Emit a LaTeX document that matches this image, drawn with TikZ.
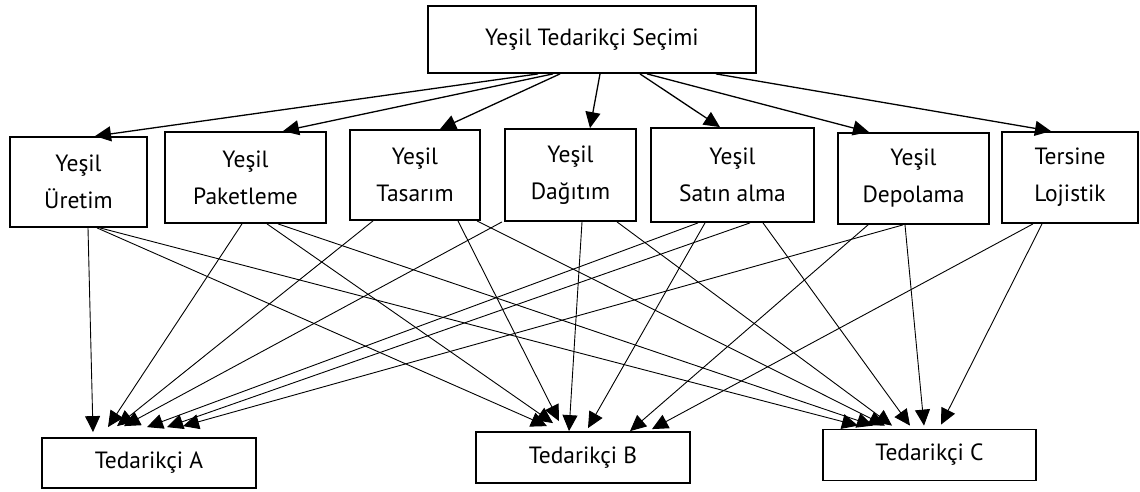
\documentclass[tikz,border=0pt]{standalone}
\usepackage{fontspec}
\setmainfont{PT Sans}
\usetikzlibrary{arrows.meta}
\tikzstyle{box} = [rectangle, draw=black, line width=1.8pt, text centered, align=center, inner sep=0pt, font=\fontsize{23.5}{37}\selectfont]
\tikzstyle{arrow} = [line width=1.3pt, -{Triangle[length=16pt,width=15pt]}]
\tikzstyle{thinarrow} = [line width=0.9pt, -{Triangle[length=16pt,width=15pt]}]

\begin{document}
\begin{tikzpicture}[x=1pt,y=-1pt]
        \useasboundingbox (0,0) rectangle (1140,491);
        \node (top) [box, minimum width=328pt, minimum height=67pt] at (592,39.5) {Yeşil Tedarikçi Seçimi};
        % criteria
        \node (u) [box, minimum width=137pt, minimum height=90pt] at (78.5,182) {Yeşil\\Üretim};
        \node (p) [box, minimum width=161pt, minimum height=91pt] at (245.5,177.5) {Yeşil\\Paketleme};
        \node (t) [box, minimum width=130pt, minimum height=90pt] at (415,175) {Yeşil\\Tasarım};
        \node (d) [box, minimum width=131pt, minimum height=92pt] at (570.5,175) {Yeşil\\Dağıtım};
        \node (s) [box, minimum width=163pt, minimum height=94pt] at (732.5,175) {Yeşil\\Satın alma};
        \node (dp) [box, minimum width=151pt, minimum height=91pt] at (913.5,178.5) {Yeşil\\Depolama};
        \node (tl) [box, minimum width=136pt, minimum height=91pt] at (1070,177.5) {Tersine\\Lojistik};
        % suppliers
        \node (A) [box, minimum width=214pt, minimum height=50pt] at (149,463) {Tedarikçi A};
        \node (B) [box, minimum width=214pt, minimum height=51pt] at (583,457.5) {Tedarikçi B};
        \node (C) [box, minimum width=213pt, minimum height=51pt] at (929.5,455) {Tedarikçi C};

        \draw [arrow] ([xshift=-54pt]top.south) -- ([xshift=16.5pt]u.north);
        \draw [arrow] ([xshift=-39pt]top.south) -- ([xshift=37.5pt]p.north);
        \draw [arrow] ([xshift=-32pt]top.south) -- ([xshift=25pt]t.north);
        \draw [arrow] ([xshift=8pt]top.south) -- ([xshift=19.5pt]d.north);
        \draw [arrow] ([xshift=48pt]top.south) -- ([xshift=-12.5pt]s.north);
        \draw [arrow] ([xshift=55pt]top.south) -- ([xshift=-44.5pt]dp.north);
        \draw [arrow] ([xshift=124pt]top.south) -- ([xshift=-19pt]tl.north);

        % to supplier A
        \draw [thinarrow] ([xshift=9.5pt]u.south) -- ([xshift=-56pt,yshift=5pt]A.north);
        \draw [thinarrow] ([xshift=-3.5pt]p.south) -- ([xshift=-41pt,yshift=10pt]A.north);
        \draw [thinarrow] ([xshift=-42pt]t.south) -- ([xshift=-32pt,yshift=11pt]A.north);
        \draw [thinarrow] ([xshift=-68.5pt]d.south) -- ([xshift=-25pt,yshift=11pt]A.north);
        \draw [thinarrow] ([xshift=-34.5pt]s.south) -- ([xshift=-2pt,yshift=10pt]A.north);
        \draw [thinarrow] ([xshift=17.5pt]s.south) -- ([xshift=18pt,yshift=10pt]A.north);
        \draw [thinarrow] ([xshift=-10.5pt]dp.south) -- ([xshift=34pt,yshift=11pt]A.north);
        % to supplier B
        \draw [thinarrow] ([xshift=18.5pt]u.south) -- ([xshift=-36pt,yshift=5pt]B.north);
        \draw [thinarrow] ([xshift=21.5pt]p.south) -- ([xshift=-30pt,yshift=8pt]B.north);
        \draw [thinarrow] ([xshift=43pt]t.south) -- ([xshift=-24pt,yshift=10pt]B.north);
        \draw [thinarrow] ([xshift=11.5pt]d.south) -- ([xshift=-14pt]B.north);
        \draw [thinarrow] ([xshift=-27.5pt]s.south) -- ([xshift=5pt,yshift=3pt]B.north);
        \draw [thinarrow] ([xshift=-45.5pt]dp.south) -- ([xshift=47pt]B.north);
        \draw [thinarrow] ([xshift=-37pt]tl.south) -- ([xshift=69pt,yshift=2pt]B.north);
        % to supplier C
        \draw [thinarrow] ([xshift=21.5pt]u.south) -- ([xshift=-71.5pt,yshift=3pt]C.north);
        \draw [thinarrow] ([xshift=32.5pt]p.south) -- ([xshift=-56.5pt,yshift=3pt]C.north);
        \draw [thinarrow] ([xshift=62pt]t.south) -- ([xshift=-44.5pt,yshift=3pt]C.north);
        \draw [thinarrow] ([xshift=46.5pt]d.south) -- ([xshift=-37.5pt,yshift=3pt]C.north);
        \draw [thinarrow] ([xshift=30.5pt]s.south) -- ([xshift=-19.5pt,yshift=3pt]C.north);
        \draw [thinarrow] ([xshift=-8.5pt]dp.south) -- ([xshift=-5.5pt,yshift=3pt]C.north);
        \draw [thinarrow] ([xshift=-28pt]tl.south) -- ([xshift=11.5pt,yshift=4pt]C.north);
\end{tikzpicture}
\end{document}
